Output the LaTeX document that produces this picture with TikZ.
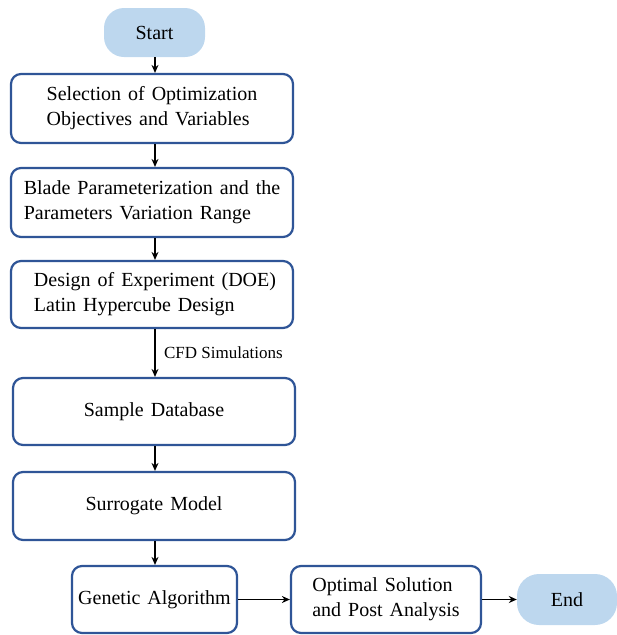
\documentclass[tikz,border=0pt]{standalone}
\usepackage{fontspec}
\setmainfont{Liberation Serif}
\usetikzlibrary{arrows.meta}
\definecolor{bord}{HTML}{2F5597}
\definecolor{term}{HTML}{BDD7EE}
\newcommand{\bodyfont}{\fontsize{20}{25}\selectfont\spaceskip=7pt plus 1pt minus 1pt\relax}
\begin{document}
\begin{tikzpicture}[x=1pt,y=-1pt,
  box/.style={draw=bord, line width=2.2pt, rounded corners=10pt, fill=white, align=left, inner sep=0pt, font=\bodyfont},
  termbox/.style={fill=term, rounded corners=20pt, inner sep=0pt, font=\fontsize{20}{22}\selectfont},
  arr/.style={line width=1.6pt, -{Stealth[length=8pt,width=7pt]}}]
\useasboundingbox (0,0) rectangle (617,635);
\node[termbox, minimum width=101pt, minimum height=49pt] (start) at (154.5,32.5) {Start};
\node[box, minimum width=282pt, minimum height=69pt] (b1) at (152,108.5) {Selection of Optimization\\Objectives and Variables};
\node[box, minimum width=282pt, minimum height=69pt] (b2) at (152,202.5) {Blade Parameterization and the\\Parameters Variation Range};
\node[box, minimum width=282pt, minimum height=67pt] (b3) at (152,294.5) {\hspace*{6pt}Design of Experiment (DOE)\\\hspace*{6pt}Latin Hypercube Design};
\node[box, minimum width=282pt, minimum height=67pt] (b4) at (154,411.5) {Sample Database};
\node[box, minimum width=282pt, minimum height=68pt] (b5) at (154,506) {Surrogate Model};
\node[box, minimum width=165pt, minimum height=67pt] (ga) at (154.5,599.5) {Genetic Algorithm};
\node[box, minimum width=190pt, minimum height=67pt] (opt) at (386,599.5) {Optimal Solution\\and Post Analysis};
\node[termbox, minimum width=100pt, minimum height=51pt, rounded corners=22pt] (end) at (567,599.5) {End};
\coordinate (ax) at (155,0);
\draw[arr] (start.south -| ax) -- (b1.north -| ax);
\draw[arr] (b1.south -| ax) -- (b2.north -| ax);
\draw[arr] (b2.south -| ax) -- (b3.north -| ax);
\draw[arr] (b3.south -| ax) -- node[right=5pt, font=\fontsize{17}{20}\selectfont] (cfd) {CFD Simulations} (b4.north -| ax);
\draw[arr] (b4.south -| ax) -- (b5.north -| ax);
\draw[arr] (b5.south -| ax) -- (ga.north -| ax);
\draw[arr] (ga) -- (opt);
\draw[arr] (opt) -- (end);
\end{tikzpicture}
\end{document}
